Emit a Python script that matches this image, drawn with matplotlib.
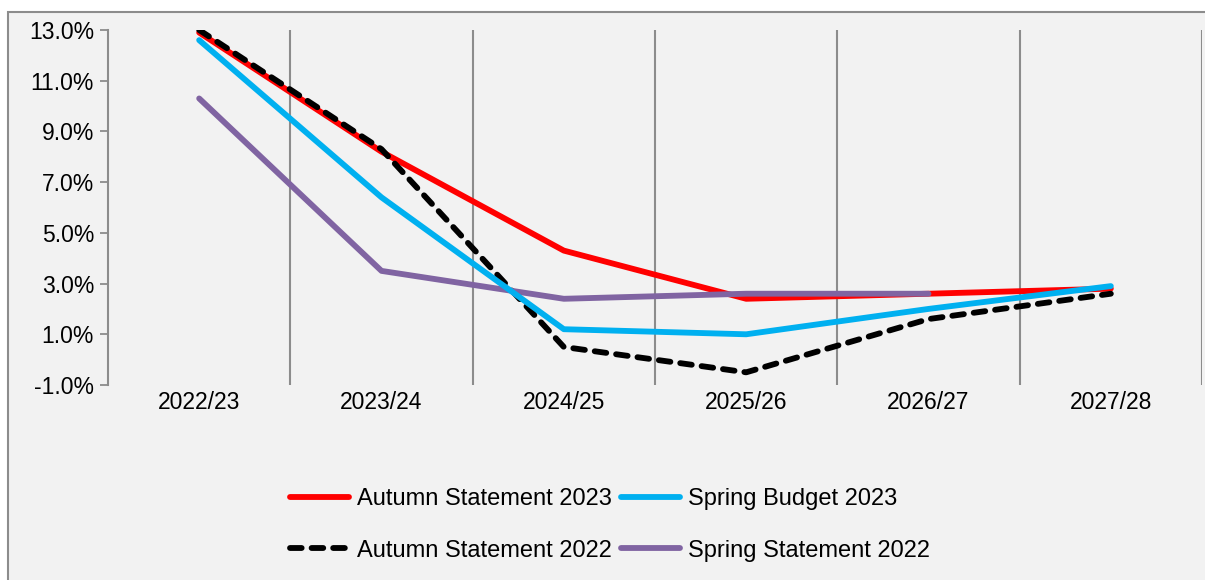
import matplotlib
matplotlib.use("Agg")
import matplotlib.pyplot as plt
from matplotlib.patches import Rectangle
from matplotlib.ticker import FuncFormatter

plt.rcParams["font.family"] = ["Liberation Sans", "DejaVu Sans"]

years = ["2022/23", "2023/24", "2024/25", "2025/26", "2026/27", "2027/28"]
autumn_2023 = [12.9, 8.2, 4.3, 2.4, 2.6, 2.8]
spring_budget_2023 = [12.6, 6.4, 1.2, 1.0, 2.0, 2.9]
autumn_2022 = [13.0, 8.3, 0.5, -0.5, 1.6, 2.6]
spring_statement_2022 = [10.3, 3.5, 2.4, 2.6, 2.6]

W, H = 1205, 580
fig = plt.figure(figsize=(W / 100, H / 100), dpi=100, facecolor="white")

# grey panel with border
fig.patches.append(Rectangle((8 / W, -0.05), 1.1, 1 - 12 / H + 0.05, transform=fig.transFigure,
                             facecolor="#f2f2f2", edgecolor="#8c8c8c", linewidth=1.5, zorder=-10))

ax = fig.add_axes([108 / W, 1 - 385 / H, (1202 - 108) / W, (385 - 30) / H])
ax.set_facecolor("none")
ax.set_zorder(2)

x = list(range(len(years)))
lw = 4.2
l1, = ax.plot(x, autumn_2023, color="#ff0000", lw=lw, solid_capstyle="round", label="Autumn Statement 2023")
l3, = ax.plot(x, autumn_2022, color="black", lw=lw, linestyle=(0, (2.0, 1.7)), dash_capstyle="round",
              label="Autumn Statement 2022")
l4, = ax.plot(x[:len(spring_statement_2022)], spring_statement_2022, color="#8064a2", lw=lw,
              solid_capstyle="round", label="Spring Statement 2022")
l2, = ax.plot(x, spring_budget_2023, color="#00b0f0", lw=lw, solid_capstyle="round", label="Spring Budget 2023")

for b in [i + 0.5 for i in x]:
    ax.axvline(b, color="#8c8c8c", lw=1.5, zorder=0)

ax.set_xlim(-0.5, 5.5)
ax.set_ylim(-1, 13)
ax.set_yticks(range(-1, 14, 2))
ax.yaxis.set_major_formatter(FuncFormatter(lambda v, p: f"{v:.1f}%"))
ax.set_xticks(x)
ax.set_xticklabels(years)
ax.tick_params(axis="x", length=0, pad=4, labelsize=16.5)
ax.tick_params(axis="y", length=6, width=1.3, color="#8c8c8c", pad=4, labelsize=16.5)

for s in ["top", "right", "bottom"]:
    ax.spines[s].set_visible(False)
ax.spines["left"].set_color("#8c8c8c")
ax.spines["left"].set_linewidth(1.5)

fig.legend([l1, l3, l2, l4], [l1.get_label(), l3.get_label(), l2.get_label(), l4.get_label()],
           ncol=2, frameon=False, loc="center", bbox_to_anchor=(610 / W, 1 - 525 / H),
           fontsize=17, handlelength=2.5, handletextpad=0.35, columnspacing=0.35, labelspacing=1.24)

fig.savefig("out.png", dpi=100)
